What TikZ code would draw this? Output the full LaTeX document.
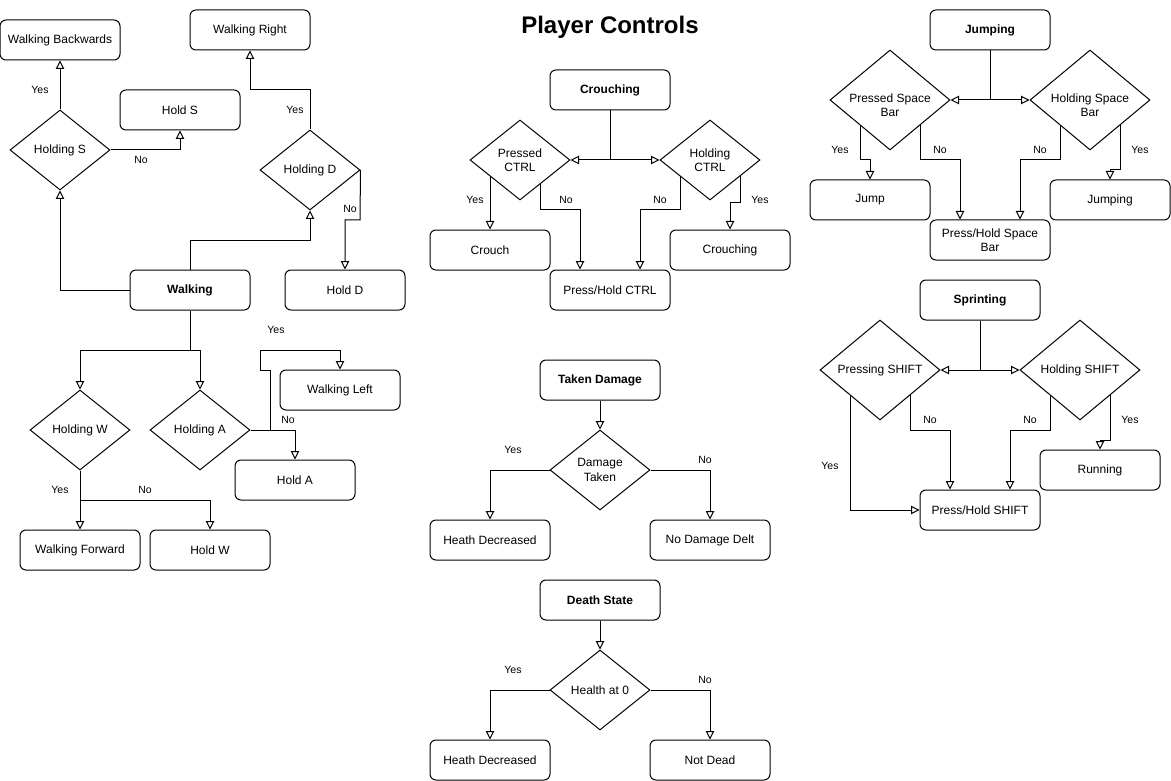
\documentclass[tikz,border=0pt]{standalone}
\usepackage{fontspec}
\setmainfont{Liberation Sans}
\usetikzlibrary{shapes.geometric,arrows.meta,calc}
\pgfdeclarelayer{bg}
\pgfsetlayers{bg,main}
\begin{document}
\begin{tikzpicture}[x=1pt,y=-1pt,
  box/.style={draw, rounded corners=6pt, minimum width=120pt, minimum height=40pt, fill=white, line width=1pt, font=\fontsize{12}{14.5}\selectfont, align=center, inner sep=0pt},
  bbox/.style={box, font=\bfseries\fontsize{12}{14.5}\selectfont},
  dia/.style={draw, diamond, fill=white, inner sep=0pt, minimum width=100pt, minimum height=80pt, line width=1pt, align=center, font=\fontsize{12}{14.5}\selectfont},
  wdia/.style={dia, minimum width=120pt, minimum height=100pt},
  txt/.style={inner sep=0pt, align=center, font=\fontsize{12}{14.5}\selectfont},
  arr/.style={-{Triangle[open,length=8.5pt,width=8.5pt]}, line width=1pt},
  lbl/.style={font=\fontsize{10.5}{12}\selectfont, inner sep=0pt}]
\useasboundingbox (0,0) rectangle (1171,781);

\node[font=\bfseries\fontsize{24}{28}\selectfont, inner sep=0pt] (title) at (610,27) {Player Controls};

% ---------- Walking ----------
\node[box] (wb) at (60,40) {Walking Backwards};
\node[box] (wr) at (250,30) {Walking Right};
\node[box] (hs) at (180,110) {Hold S};
\node[dia] (qs) at (60,150) {Holding S};
\node[dia] (qd) at (310,170) {Holding D};
\node[bbox] (walk) at (190,290) {Walking};
\node[box] (hd) at (345,290) {Hold D};
\node[dia] (qw) at (80,430) {Holding W};
\node[dia] (qa) at (200,430) {Holding A};
\node[box] (wl) at (340,390) {Walking Left};
\node[box] (ha) at (295,480) {Hold A};
\node[box] (wf) at (80,550) {Walking Forward};
\node[box] (hw) at (210,550) {Hold W};

\node[lbl] (l1) at (40,90) {Yes};
\node[lbl] (l2) at (141,160) {No};
\node[lbl] (l3) at (295,110) {Yes};
\node[lbl] (l4) at (350,209) {No};
\node[lbl] (l5) at (276,330) {Yes};
\node[lbl] (l6) at (288,420) {No};
\node[lbl] (l7) at (60,490) {Yes};
\node[lbl] (l8) at (145,490) {No};

% ---------- Crouching ----------
\node[bbox] (cr) at (610,90) {Crouching};
\node[dia] (pc) at (520,160) {Pressed\\CTRL};
\node[dia] (hc) at (710,160) {Holding\\CTRL};
\node[box] (cro) at (490,250) {Crouch};
\node[box] (crg) at (730,250) {Crouching};
\node[box] (phc) at (610,290) {Press/Hold CTRL};
\node[lbl] (c1) at (475,200) {Yes};
\node[lbl] (c2) at (566,200) {No};
\node[lbl] (c3) at (660,200) {No};
\node[lbl] (c4) at (760,200) {Yes};

% ---------- Jumping ----------
\node[bbox] (jp) at (990,30) {Jumping};
\node[wdia] (psb) at (890,100) {};
\node[txt] (psbt) at (890,105) {Pressed Space\\Bar};
\node[wdia] (hsb) at (1090,100) {};
\node[txt] (hsbt) at (1090,105) {Holding Space\\Bar};
\node[box] (jmp) at (870,200) {Jump};
\node[box] (jpg) at (1110,200) {Jumping};
\node[box] (phs) at (990,240) {Press/Hold Space\\Bar};
\node[lbl] (j1) at (840,150) {Yes};
\node[lbl] (j2) at (940,150) {No};
\node[lbl] (j3) at (1040,150) {No};
\node[lbl] (j4) at (1140,150) {Yes};

% ---------- Sprinting ----------
\node[bbox] (sp) at (980,300) {Sprinting};
\node[wdia] (pss) at (880,370) {Pressing SHIFT};
\node[wdia] (hss) at (1080,370) {Holding SHIFT};
\node[box] (run) at (1100,470) {Running};
\node[box] (phsh) at (980,510) {Press/Hold SHIFT};
\node[lbl] (s1) at (830,466) {Yes};
\node[lbl] (s2) at (930,420) {No};
\node[lbl] (s3) at (1030,420) {No};
\node[lbl] (s4) at (1130,420) {Yes};

% ---------- Taken Damage ----------
\node[bbox] (td) at (600,380) {Taken Damage};
\node[dia] (dt) at (600,470) {Damage\\Taken};
\node[box] (hd1) at (490,540) {Heath Decreased};
\node[box] (ndd) at (710,540) {No Damage Delt};
\node[lbl] (d1) at (513,450) {Yes};
\node[lbl] (d2) at (705,460) {No};

% ---------- Death State ----------
\node[bbox] (ds) at (600,600) {Death State};
\node[dia] (h0) at (600,690) {Health at 0};
\node[box] (hd2) at (490,760) {Heath Decreased};
\node[box] (nd) at (710,760) {Not Dead};
\node[lbl] (e1) at (513,670) {Yes};
\node[lbl] (e2) at (705,680) {No};

\begin{pgfonlayer}{bg}
% Walking
\draw[arr] (walk.west) -| (qs.south);
\draw[arr] (qs.north) -- (wb.south);
\draw[arr] (qs.east) -| (hs.south);
\draw[arr] (walk.north) -- (190,240) -| (qd.south);
\draw[arr] (qd.north) -- (310,90) -| (wr.south);
\draw[arr] (qd.east) -- (360,220) -| (hd.north);
\draw[arr] (walk.south) -- (190,350) -| (qw.north);
\draw[arr] (walk.south) -- (190,350) -| (qa.north);
\draw[arr] (qa.east) -- (270,430) -- (270,370) -- (260,370) -- (260,350) -| (wl.north);
\draw[arr] (qa.east) -| (ha.north);
\draw[arr] (qw.south) -- (wf.north);
\draw[arr] (qw.south) -- (80,500) -| (hw.north);
% Crouching
\draw[arr] (cr.south) |- (pc.east);
\draw[arr] (cr.south) |- (hc.west);
\draw[arr] (pc.center -| cro.north) -- (cro.north);
\draw[arr] ($(pc.center)+(20,0)$) -- (540,210) -| ($(phc.north)+(-30,0)$);
\draw[arr] ($(hc.center)+(-30,0)$) -- (680,210) -| ($(phc.north)+(30,0)$);
\draw[arr] ($(hc.center)+(30,0)$) -- (740,203) -| (crg.north);
% Jumping
\draw[arr] (jp.south) |- (psb.east);
\draw[arr] (jp.south) |- (hsb.west);
\draw[arr] ($(psb.center)+(-30,0)$) -- (860,160) -| (jmp.north);
\draw[arr] ($(psb.center)+(30,0)$) -- (920,160) -| ($(phs.north)+(-30,0)$);
\draw[arr] ($(hsb.center)+(-30,0)$) -- (1060,160) -| ($(phs.north)+(30,0)$);
\draw[arr] ($(hsb.center)+(30,0)$) -- (1120,170) -| (jpg.north);
% Sprinting
\draw[arr] (sp.south) |- (pss.east);
\draw[arr] (sp.south) |- (hss.west);
\draw[arr] ($(pss.center)+(-30,0)$) |- (phsh.west);
\draw[arr] ($(pss.center)+(30,0)$) -- (910,430) -| ($(phsh.north)+(-30,0)$);
\draw[arr] ($(hss.center)+(-30,0)$) -- (1050,430) -| ($(phsh.north)+(30,0)$);
\draw[arr] ($(hss.center)+(30,0)$) -- (1110,440) -| (run.north);
% Damage
\draw[arr] (td.south) -- (dt.north);
\draw[arr] (dt.west) -| (hd1.north);
\draw[arr] (dt.east) -| (ndd.north);
% Death
\draw[arr] (ds.south) -- (h0.north);
\draw[arr] (h0.west) -| (hd2.north);
\draw[arr] (h0.east) -| (nd.north);
\end{pgfonlayer}
\end{tikzpicture}
\end{document}
